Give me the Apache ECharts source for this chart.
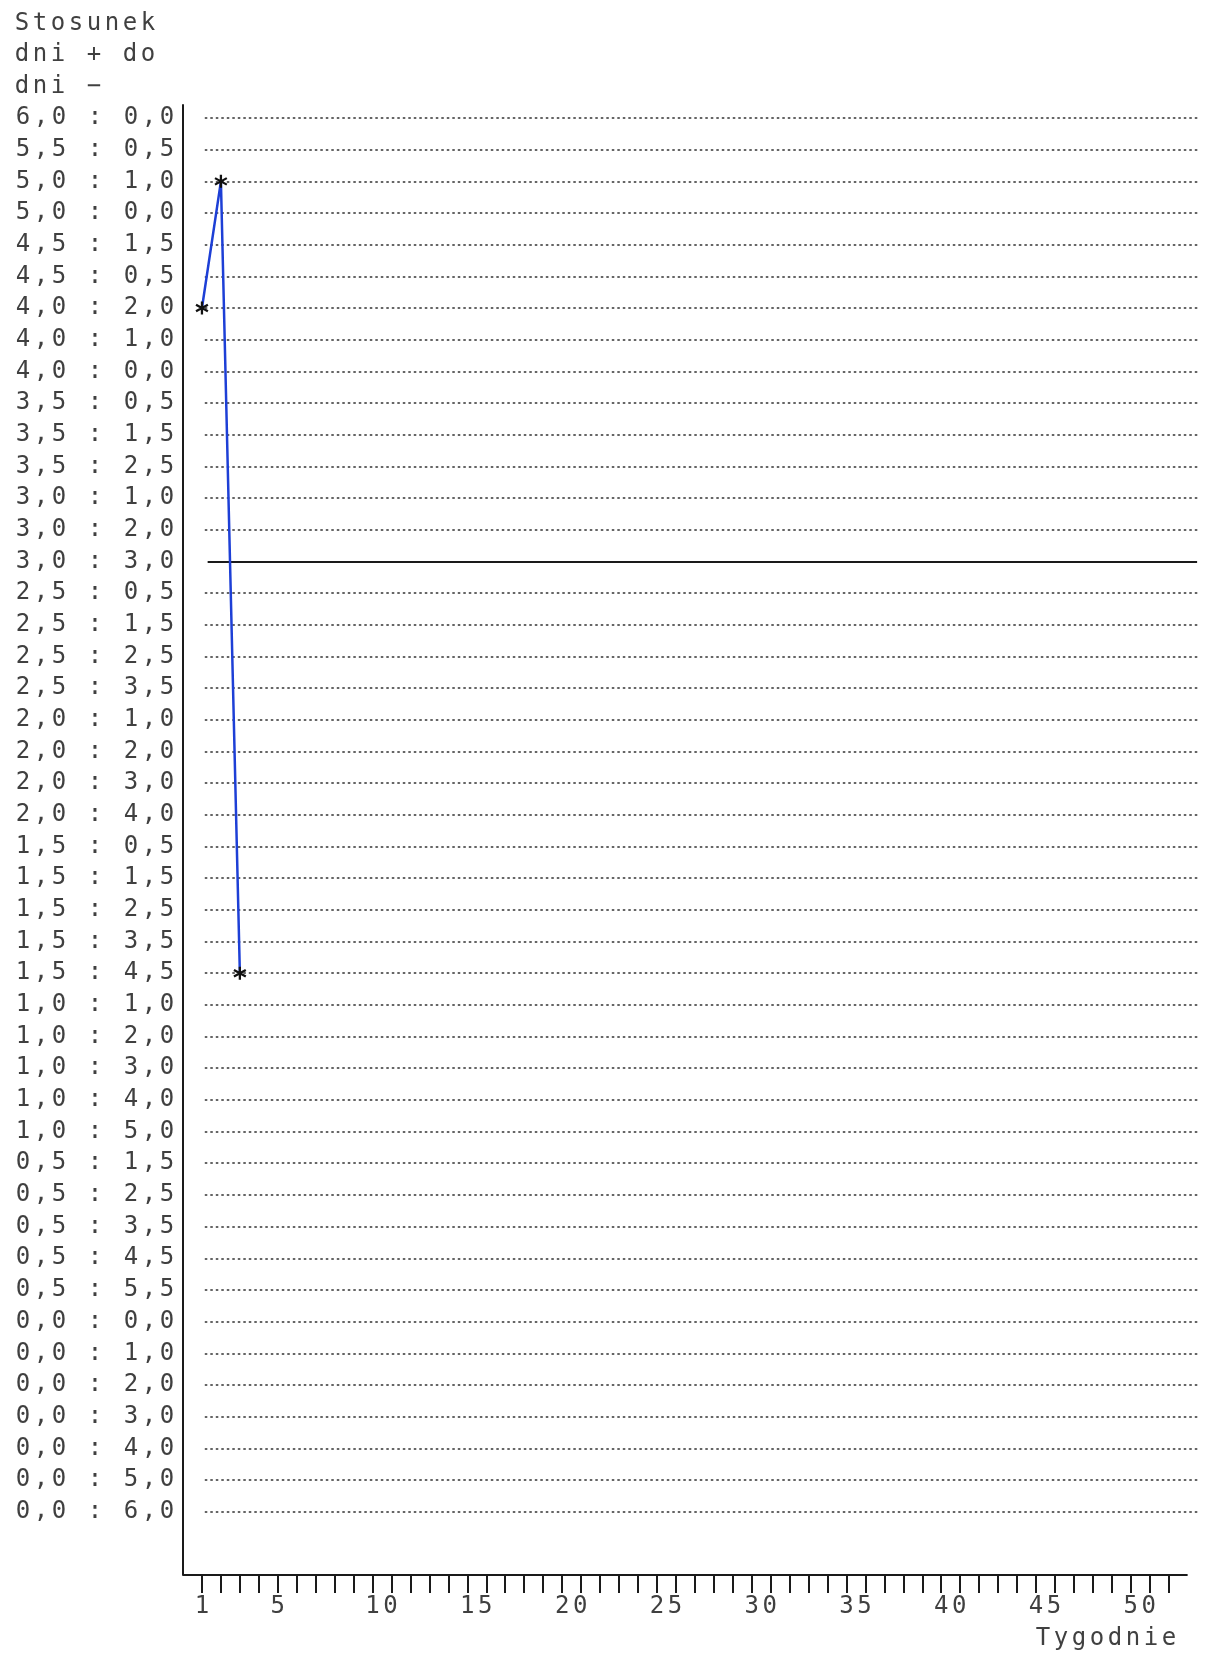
<!DOCTYPE html>
<html>
<head>
<meta charset="utf-8">
<script src="https://cdn.jsdelivr.net/npm/echarts@6/dist/echarts.min.js"></script>
<style>
html,body{margin:0;padding:0;background:#fff;}
#chart{width:1206px;height:1654px;}
</style>
</head>
<body>
<div id="chart"></div>
<script>
// ---- data ----
const ratioLabels = [
  "6,0 : 0,0","5,5 : 0,5","5,0 : 1,0","5,0 : 0,0","4,5 : 1,5","4,5 : 0,5",
  "4,0 : 2,0","4,0 : 1,0","4,0 : 0,0","3,5 : 0,5","3,5 : 1,5","3,5 : 2,5",
  "3,0 : 1,0","3,0 : 2,0","3,0 : 3,0","2,5 : 0,5","2,5 : 1,5","2,5 : 2,5",
  "2,5 : 3,5","2,0 : 1,0","2,0 : 2,0","2,0 : 3,0","2,0 : 4,0","1,5 : 0,5",
  "1,5 : 1,5","1,5 : 2,5","1,5 : 3,5","1,5 : 4,5","1,0 : 1,0","1,0 : 2,0",
  "1,0 : 3,0","1,0 : 4,0","1,0 : 5,0","0,5 : 1,5","0,5 : 2,5","0,5 : 3,5",
  "0,5 : 4,5","0,5 : 5,5","0,0 : 0,0","0,0 : 1,0","0,0 : 2,0","0,0 : 3,0",
  "0,0 : 4,0","0,0 : 5,0","0,0 : 6,0"
];
const weeks = [1, 2, 3];
const weekRatios = ["4,0 : 2,0", "5,0 : 1,0", "1,5 : 4,5"];
const xTickValues = [1,2,3,4,5,6,7,8,9,10,11,12,13,14,15,16,17,18,19,20,21,22,23,24,25,26,
  27,28,29,30,31,32,33,34,35,36,37,38,39,40,41,42,43,44,45,46,47,48,49,50,51,52];
const xLabelValues = [1, 5, 10, 15, 20, 25, 30, 35, 40, 45, 50];
const yTitleLines = ["Stosunek", "dni + do", "dni \u2212"];
const xTitle = "Tygodnie";
const referenceRatio = "3,0 : 3,0";

// ---- helpers ----
const N = ratioLabels.length;            // 45 rows
const yOf = lab => (N - 1) - ratioLabels.indexOf(lab);
const FONT = "DejaVu Sans Mono";
const CW = 18;
const TXT = "#404040";
const mono = (s, key) => s.split("").map(ch => "{" + key + "|" + ch + "}").join("");
const cell = {width: CW, align: "center", fontFamily: FONT, fontSize: 24, fontWeight: "normal",
              color: TXT, lineHeight: 20};

const X_MIN = 0, X_MAX = 53.6, AXIS_END = 53;
const GRID_FROM = 1.15, GRID_TO = 53.6, REF_FROM = 1.3, REF_TO = 53.5;
const Y_MIN = -2, Y_MAX = 44.41;

const gridLines = ratioLabels.map(lab => {
  const v = yOf(lab);
  const isRef = lab === referenceRatio;
  return [
    {coord: [isRef ? REF_FROM : GRID_FROM, v],
     lineStyle: isRef ? {type: "solid", width: 2, color: "#1a1a1a"}
                      : {type: [2.5, 3], width: 1.6, color: "#333"}},
    {coord: [isRef ? REF_TO : GRID_TO, v]}
  ];
});
// bottom axis baseline (week 0 to 53)
gridLines.push([
  {coord: [X_MIN, Y_MIN], lineStyle: {type: "solid", width: 2, color: "#1a1a1a"}},
  {coord: [AXIS_END, Y_MIN]}
]);

const asterisk = "path://M-1,-6L1,-6L1,6L-1,6Z M4.696,-3.866L5.696,-2.134L-4.696,3.866L-5.696,2.134Z M-5.696,-2.134L-4.696,-3.866L5.696,2.134L4.696,3.866Z";

const titleLine = (text, i) => ({
  text: mono(text, "c"),
  left: 13, top: 8 + i * 31.6, padding: 0,
  textStyle: {fontWeight: "normal", lineHeight: 31, rich: {c: Object.assign({}, cell, {lineHeight: 31})}}
});

const chart = echarts.init(document.getElementById("chart"), null, {renderer: "canvas"});
chart.setOption({
  animation: false,
  backgroundColor: "#fff",
  title: yTitleLines.map(titleLine).concat([
    {
      text: mono(xTitle, "c"),
      right: 28, top: 1629, padding: 0,
      textStyle: {fontWeight: "normal", lineHeight: 20, rich: {c: cell}}
    }
  ]),
  grid: {left: 183, right: 7, top: 105, bottom: 79, containLabel: false},
  xAxis: {
    type: "value", min: X_MIN, max: X_MAX,
    axisLine: {show: false, onZero: false},
    splitLine: {show: false},
    axisTick: {show: true, customValues: xTickValues, length: 18, inside: false,
               lineStyle: {color: "#1a1a1a", width: 2}},
    axisLabel: {
      show: true, customValues: xLabelValues, margin: 22,
      formatter: v => {
        const s = String(v);
        return (s.length > 1 ? "{sp| }" : "") + mono(s, "c");
      },
      rich: {c: cell, sp: Object.assign({}, cell, {width: CW * 1})}
    }
  },
  yAxis: {
    type: "value", min: Y_MIN, max: Y_MAX,
    axisLine: {show: true, onZero: false, lineStyle: {color: "#1a1a1a", width: 2}},
    axisTick: {show: false},
    splitLine: {show: false},
    axisLabel: {
      show: true, margin: 7,
      customValues: ratioLabels.map(yOf),
      formatter: v => {
        const lab = ratioLabels[(N - 1) - Math.round(v)];
        return lab ? mono(lab, "c") : "";
      },
      rich: {c: cell}
    }
  },
  series: [
    {
      type: "line", data: [], z: 1, silent: true, clip: false,
      markLine: {silent: true, symbol: "none", animation: false,
                 label: {show: false}, emphasis: {disabled: true}, data: gridLines}
    },
    {
      type: "line", z: 5,
      data: weeks.map((w, i) => [w, yOf(weekRatios[i])]),
      symbol: asterisk, symbolSize: 13, showSymbol: true,
      itemStyle: {color: "#111"},
      lineStyle: {color: "#1d3fd6", width: 2.5}
    }
  ]
});
</script>
</body>
</html>
